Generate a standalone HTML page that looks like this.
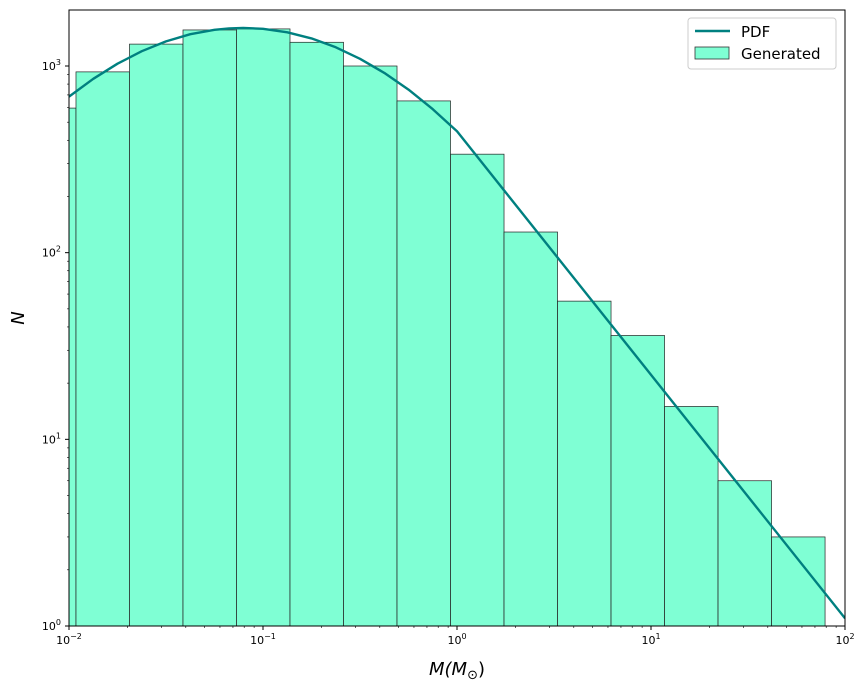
<!DOCTYPE html>
<html><head><meta charset="utf-8"><style>
body{margin:0;background:#fff;width:867px;height:691px;overflow:hidden}
svg{font-family:"DejaVu Sans","Liberation Sans",sans-serif}
</style></head><body>
<svg id="chart" width="867" height="691">
<defs><clipPath id="clip"><rect x="69" y="10" width="776" height="616"/></clipPath></defs>
<g id="bars" clip-path="url(#clip)"></g>
<g id="line" clip-path="url(#clip)"></g>
<rect x="69" y="10" width="776" height="616" fill="none" stroke="#000" stroke-width="1"/>
<g id="axes"></g>
<text x="457" y="675" text-anchor="middle" font-size="18" font-style="italic">M(M<tspan font-size="13" dy="4">⊙</tspan><tspan dy="-4" font-style="normal">)</tspan></text>
<text x="24" y="318" text-anchor="middle" font-size="18" font-style="italic" transform="rotate(-90 24 318)">N</text>
<g>
<rect x="688" y="18" width="148" height="51" rx="3" fill="#fff" stroke="#ccc"/>
<line x1="695" y1="31" x2="730" y2="31" stroke="#008080" stroke-width="2.5"/>
<text x="741" y="37" font-size="15">PDF</text>
<rect x="695" y="47" width="34" height="12" fill="#7fffd4" stroke="#333" stroke-width="0.8"/>
<text x="741" y="59" font-size="15">Generated</text>
</g>
</svg>
<script>
const binStartLog = -2.2398;
const binWidthLog = 0.2758;
const counts = [595, 930, 1310, 1560, 1580, 1340, 1000, 650, 337, 129, 55, 36, 15, 6, 3];
const pdfLogM = [-2, -1.875, -1.75, -1.625, -1.5, -1.375, -1.25, -1.175, -1.102, -1, -0.875, -0.75, -0.625, -0.5, -0.375, -0.25, -0.125, 0, 2];
const pdfN = [686, 854, 1029, 1201, 1355, 1480, 1563, 1591, 1600, 1582, 1516, 1405, 1260, 1093, 918, 747, 587, 447, 1.1];
const xTicks = [-2, -1, 0, 1, 2];
const yTicks = [0, 1, 2, 3];

const NS = "http://www.w3.org/2000/svg";
const X0 = 69, X1 = 845, Y0 = 626, Y1 = 10;
const xMin = -2, xMax = 2, yMin = 0, yMax = 3.3;
function xs(l){return X0 + (l - xMin) / (xMax - xMin) * (X1 - X0);}
function ys(v){return Y0 - (Math.log10(v) - yMin) / (yMax - yMin) * (Y0 - Y1);}
function mk(t, a, p){const e = document.createElementNS(NS, t); for (const k in a) e.setAttribute(k, a[k]); (p || document.getElementById('chart')).appendChild(e); return e;}

const bg = document.getElementById('bars');
counts.forEach((c, i) => {
  const l = binStartLog + i * binWidthLog;
  const x = xs(l), w = xs(l + binWidthLog) - x, y = ys(c);
  const r = mk('rect', {x: x, y: y, width: w, height: Y0 - y, fill: '#7fffd4', stroke: '#222', 'stroke-width': 0.7}, bg);
  
  
});

const d = pdfLogM.map((l, i) => (i ? 'L' : 'M') + xs(l).toFixed(1) + ',' + ys(pdfN[i]).toFixed(1)).join(' ');
const pl = mk('path', {d: d, fill: 'none', stroke: '#008080', 'stroke-width': 2.4, 'stroke-linejoin': 'round'}, document.getElementById('line'));



const ax = document.getElementById('axes');
xTicks.forEach(t => {
  const x = xs(t);
  mk('line', {x1: x, x2: x, y1: Y0, y2: Y0 + 4, stroke: '#000'}, ax);
  const tx = mk('text', {x: x, y: Y0 + 18, 'text-anchor': 'middle', 'font-size': 11}, ax);
  
  
  tx.innerHTML = '10<tspan font-size="8" dy="-5">' + String(t).replace('-', '\u2212') + '</tspan>';
  if (t < xMax) for (let k = 2; k < 10; k++) {
    const xm = xs(t + Math.log10(k));
    mk('line', {x1: xm, x2: xm, y1: Y0, y2: Y0 + 2, stroke: '#000', 'stroke-width': 0.6}, ax);
  }
});
yTicks.forEach(t => {
  const y = ys(Math.pow(10, t));
  mk('line', {x1: X0 - 4, x2: X0, y1: y, y2: y, stroke: '#000'}, ax);
  const tx = mk('text', {x: X0 - 8, y: y + 4, 'text-anchor': 'end', 'font-size': 11}, ax);
  
  
  tx.innerHTML = '10<tspan font-size="8" dy="-5">' + t + '</tspan>';
  for (let k = 2; k < 10; k++) {
    const v = Math.pow(10, t) * k;
    if (Math.log10(v) > yMax) break;
    const ym = ys(v);
    mk('line', {x1: X0 - 2, x2: X0, y1: ym, y2: ym, stroke: '#000', 'stroke-width': 0.6}, ax);
  }
});
</script>
</body></html>
